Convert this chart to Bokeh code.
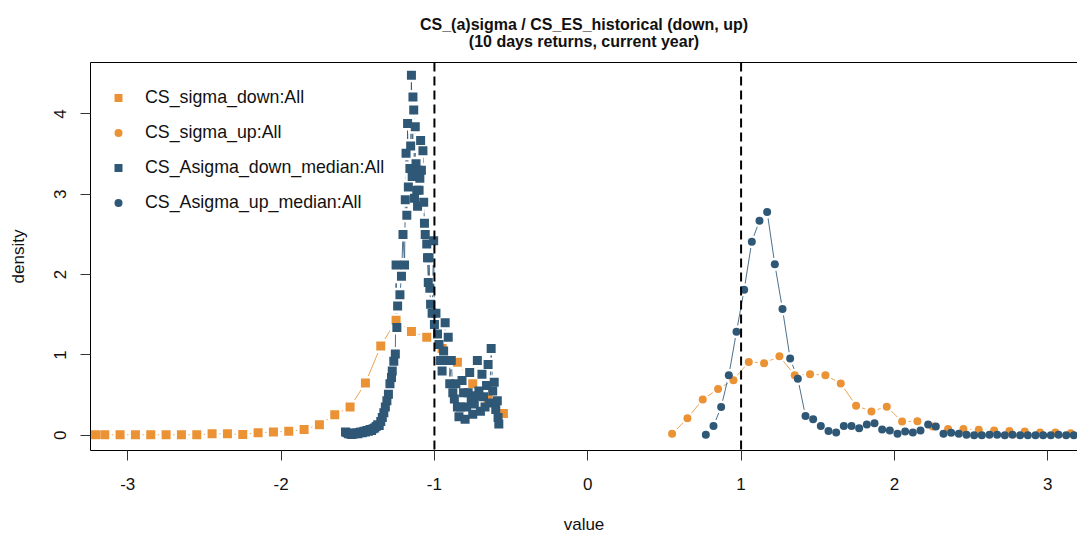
from bokeh.plotting import figure
from bokeh.models import Span, Legend, LegendItem, Title, FixedTicker, LinearAxis
from bokeh.embed import file_html
from bokeh.resources import INLINE

# ---------------- data ----------------
title_lines = ["CS_(a)sigma / CS_ES_historical (down, up)",
               "(10 days returns, current year)"]
x_label = "value"
y_label = "density"
x_ticks = [-3, -2, -1, 0, 1, 2, 3]
y_ticks = [0, 1, 2, 3, 4]
vlines = [-1, 1]

series_names = ["CS_sigma_down:All", "CS_sigma_up:All",
                "CS_Asigma_down_median:All", "CS_Asigma_up_median:All"]

sd_x = [-3.21, -3.15, -3.05, -2.95, -2.85, -2.75, -2.65, -2.55, -2.45, -2.35,
        -2.25, -2.15, -2.05, -1.95, -1.85, -1.75, -1.65, -1.55, -1.45, -1.35,
        -1.25, -1.15, -1.05, -0.95, -0.85, -0.75, -0.65, -0.55]
sd_y = [0.005, 0.005, 0.005, 0.005, 0.005, 0.005, 0.005, 0.005, 0.017, 0.017,
        0.01, 0.03, 0.04, 0.05, 0.07, 0.13, 0.256, 0.35, 0.65, 1.11,
        1.43, 1.29, 1.22, 1.08, 0.91, 0.64, 0.45, 0.27]

su_x = [0.55, 0.65, 0.75, 0.85, 0.95, 1.05, 1.15, 1.25, 1.35, 1.45,
        1.55, 1.65, 1.75, 1.85, 1.95, 2.05, 2.15, 2.25, 2.35, 2.45,
        2.55, 2.65, 2.75, 2.85, 2.95, 3.05, 3.15]
su_y = [0.017, 0.21, 0.446, 0.575, 0.686, 0.913, 0.897, 0.984, 0.748, 0.76,
        0.748, 0.644, 0.368, 0.297, 0.356, 0.17, 0.174, 0.108, 0.079, 0.079,
        0.067, 0.058, 0.054, 0.046, 0.033, 0.033, 0.025]

ad_x = [-1.58, -1.57, -1.56, -1.55, -1.54, -1.53, -1.52, -1.51, -1.50, -1.49,
        -1.48, -1.47, -1.46, -1.45, -1.44, -1.43, -1.42, -1.41, -1.40, -1.39,
        -1.38, -1.37, -1.36, -1.35, -1.34, -1.33, -1.32, -1.31, -1.30, -1.29,
        -1.28, -1.275, -1.265, -1.255, -1.25, -1.245, -1.24, -1.225, -1.215, -1.205,
        -1.195, -1.19, -1.185, -1.18, -1.175, -1.17, -1.16, -1.155, -1.15, -1.145,
        -1.14, -1.135, -1.13, -1.125, -1.12, -1.115, -1.11, -1.105, -1.10, -1.095,
        -1.09, -1.085, -1.075, -1.07, -1.065, -1.06, -1.05, -1.045, -1.04, -1.035,
        -1.03, -1.025, -1.015, -1.005, -1.00, -0.99, -0.98, -0.97, -0.96, -0.95,
        -0.94, -0.93, -0.92, -0.91, -0.90, -0.89, -0.88, -0.87, -0.86, -0.85,
        -0.84, -0.83, -0.82, -0.81, -0.80, -0.79, -0.78, -0.77, -0.76, -0.75,
        -0.74, -0.73, -0.72, -0.71, -0.70, -0.69, -0.68, -0.67, -0.66, -0.65,
        -0.64, -0.63, -0.62, -0.61, -0.60, -0.59, -0.585, -0.58]
ad_y = [0.04, 0.03, 0.02, 0.02, 0.01, 0.02, 0.02, 0.03, 0.02, 0.03,
        0.04, 0.03, 0.05, 0.04, 0.06, 0.05, 0.07, 0.06, 0.08, 0.09,
        0.11, 0.13, 0.12, 0.17, 0.22, 0.28, 0.35, 0.43, 0.51, 0.64,
        0.72, 0.80, 0.92, 1.01, 2.12, 1.34, 1.61, 1.75, 1.98, 2.50,
        2.12, 2.93, 3.51, 2.74, 3.88, 3.09, 3.32, 3.60, 4.48, 3.22,
        4.21, 4.05, 2.95, 3.84, 3.38, 3.05, 2.85, 3.30, 3.05, 3.20,
        3.67, 3.30, 3.54, 2.90, 2.64, 2.50, 2.38, 2.21, 1.90, 2.21,
        1.83, 1.63, 1.52, 2.42, 1.38, 1.52, 1.26, 1.13, 0.93, 0.80,
        1.05, 1.40, 0.93, 1.22, 0.64, 0.93, 0.53, 0.45, 0.64, 0.35,
        0.23, 0.35, 0.68, 0.53, 0.20, 0.35, 0.53, 0.78, 0.45, 0.26,
        0.39, 0.49, 0.93, 0.55, 0.30, 0.76, 0.48, 0.35, 0.62, 0.88,
        0.40, 1.08, 0.55, 0.66, 0.32, 0.43, 0.22, 0.14, 0.04]

au_x = [0.77, 0.82, 0.87, 0.92, 0.97, 1.02, 1.07, 1.12, 1.17, 1.22,
        1.27, 1.32, 1.37, 1.42, 1.47, 1.52, 1.57, 1.62, 1.67, 1.72,
        1.77, 1.82, 1.87, 1.92, 1.97, 2.02, 2.07, 2.12, 2.17, 2.22,
        2.27, 2.32, 2.37, 2.42, 2.47, 2.52, 2.57, 2.62, 2.67, 2.72,
        2.77, 2.82, 2.87, 2.92, 2.97, 3.02, 3.07, 3.12, 3.17]
au_y = [0.005, 0.116, 0.352, 0.748, 1.289, 1.81, 2.41, 2.67, 2.78, 2.128,
        1.57, 0.954, 0.703, 0.24, 0.198, 0.116, 0.054, 0.033, 0.116, 0.116,
        0.087, 0.133, 0.149, 0.071, 0.058, 0.017, 0.046, 0.033, 0.058, 0.133,
        0.108, 0.017, 0.03, 0.017, 0.005, 0.0, 0.0, 0.005, 0.005, 0.0,
        0.005, 0.0, 0.0, 0.0, 0.0, 0.0, 0.005, 0.0, 0.0]

ORANGE = "#EB9234"
BLUE = "#2F5776"
FONT = "Liberation Sans"

# ---------------- figure ----------------
p = figure(width=1077, height=536,
           x_range=(-3.243, 3.194), y_range=(-0.19, 4.64),
           output_backend="svg", toolbar_location=None,
           min_border_left=90, min_border_right=0,
           min_border_top=60, min_border_bottom=86)
p.background_fill_color = "white"
p.border_fill_color = "white"
p.xgrid.visible = False
p.ygrid.visible = False
p.outline_line_color = None

# two-line bold title; the block is left-aligned by Bokeh, so the shorter
# second line is centred under the first with non-breaking spaces
pad = "\u00a0" * 11
p.title = Title(text=title_lines[0] + "\n" + pad + title_lines[1],
                align="center", standoff=26,
                text_font=FONT, text_font_style="bold", text_font_size="16px",
                text_color="#111111", text_line_height=1.0)

p.xaxis.ticker = FixedTicker(ticks=x_ticks)
p.yaxis.ticker = FixedTicker(ticks=y_ticks)
p.xaxis.major_label_overrides = {t: str(t) for t in x_ticks}
p.yaxis.major_label_overrides = {t: str(t) for t in y_ticks}
for ax in (p.xaxis[0], p.yaxis[0]):
    ax.major_tick_out = 10
    ax.major_tick_in = 0
    ax.minor_tick_line_color = None
    ax.major_tick_line_color = "#333333"
    ax.axis_line_color = "black"
    ax.major_label_text_font = FONT
    ax.major_label_text_font_size = "17px"
    ax.major_label_text_color = "#111111"
    ax.axis_label_text_font = FONT
    ax.axis_label_text_font_size = "17px"
    ax.axis_label_text_font_style = "normal"
    ax.axis_label_text_color = "#111111"

p.xaxis.axis_label = x_label
p.yaxis.axis_label = y_label
p.xaxis.major_label_standoff = 17
p.xaxis.axis_label_standoff = 22
p.yaxis.major_label_orientation = "vertical"
p.yaxis.major_label_standoff = 14
p.yaxis.axis_label_standoff = 24

# top edge of the box (the right edge lies outside the picture)
top_axis = LinearAxis(ticker=FixedTicker(ticks=[]), axis_line_color="black",
                      major_tick_line_color=None, minor_tick_line_color=None,
                      major_label_standoff=0, major_tick_out=0, major_tick_in=0)
p.add_layout(top_axis, "above")

# dashed reference lines
for v in vlines:
    p.add_layout(Span(location=v, dimension="height", line_color="black",
                      line_width=2, line_dash="9 5"))

series = [
    (sd_x, sd_y, "square", 9, ORANGE),
    (su_x, su_y, "circle", 8, ORANGE),
    (ad_x, ad_y, "square", 9, BLUE),
    (au_x, au_y, "circle", 8, BLUE),
]

# connecting lines (R type = "b": gaps around points)
for xs, ys, mk, sz, col in series:
    p.line(xs, ys, line_color=col, line_width=1, line_alpha=0.85)
for xs, ys, mk, sz, col in series:
    p.scatter(xs, ys, marker=mk, size=sz + 5, fill_color="white",
              line_color=None)
marker_renderers = []
for xs, ys, mk, sz, col in series:
    r = p.scatter(xs, ys, marker=mk, size=sz, fill_color=col, line_color=None)
    marker_renderers.append(r)

legend = Legend(items=[LegendItem(label=n, renderers=[r])
                       for n, r in zip(series_names, marker_renderers)],
                location="top_left", margin=8, padding=10,
                glyph_width=20, glyph_height=35, label_height=35,
                spacing=0, label_standoff=17,
                background_fill_alpha=0, border_line_alpha=0,
                label_text_font=FONT, label_text_font_size="17.8px",
                label_text_color="#111111")
p.add_layout(legend)

open("out.html", "w").write(file_html(p, INLINE))
